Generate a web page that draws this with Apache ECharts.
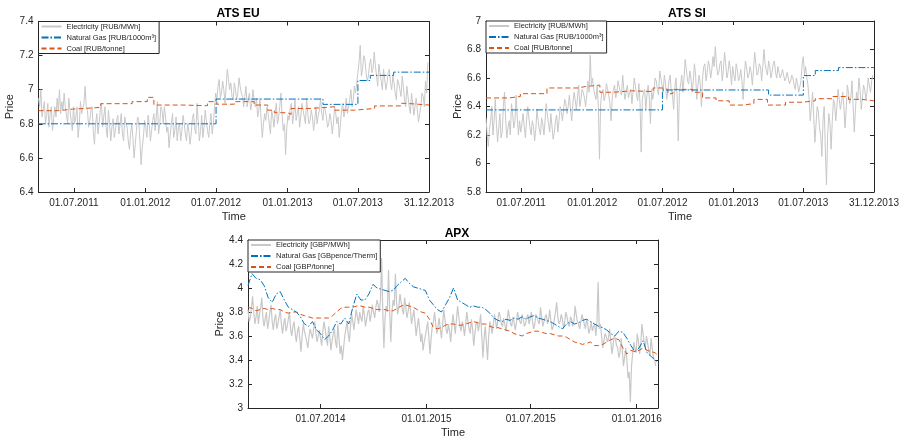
<!DOCTYPE html>
<html><head><meta charset="utf-8">
<script src="https://cdn.jsdelivr.net/npm/echarts@6/dist/echarts.min.js"></script>
<style>html,body{margin:0;padding:0;background:#fff}#c{width:902px;height:439px}</style>
</head><body><div id="c"></div>
<script>
// ---------- ATS EU ----------
const euRange = ['2011-04-01', '2013-12-31'];
const euElecStart = '2011-04-01';
const euElecStepDays = 3;
const euTicks = ['01.07.2011', '01.01.2012', '01.07.2012', '01.01.2013', '01.07.2013', '31.12.2013'];
const euElec = [
  6.95, 6.9, 7.0, 6.84, 6.88, 6.93, 6.8, 6.85, 6.92, 6.78, 6.86, 6.9, 6.76, 6.83, 6.9, 6.84, 6.95, 6.88, 7.0, 6.86, 6.93, 6.88, 6.98, 6.9, 6.85, 6.8, 6.95, 6.88, 6.82,
  6.76, 6.9, 6.8, 6.84, 6.9, 6.72, 6.8, 6.93, 6.86, 6.85, 6.92, 7.02, 6.9, 6.88, 6.78, 6.82, 6.88, 6.9, 6.76, 6.68, 6.8, 6.86, 6.74, 6.8, 6.88, 6.92, 6.78, 6.84, 6.9, 6.78, 6.72, 6.88,
  6.8, 6.7, 6.78, 6.83, 6.72, 6.76, 6.82, 6.85, 6.74, 6.8, 6.86, 6.74, 6.7, 6.84, 6.8, 6.78, 6.7, 6.65, 6.74, 6.8, 6.72, 6.6, 6.68, 6.76, 6.84, 6.82, 6.7, 6.56, 6.66, 6.72,
  6.82, 6.78, 6.72, 6.85, 6.8, 6.7, 6.76, 6.82, 6.86, 6.76, 6.84, 6.93, 6.74, 6.8, 6.9, 6.88, 6.8, 6.9, 6.84, 6.75, 6.78, 6.66, 6.74, 6.8, 6.86, 6.72, 6.76, 6.84, 6.7, 6.78,
  6.8, 6.7, 6.76, 6.85, 6.8, 6.74, 6.7, 6.8, 6.76, 6.68, 6.74, 6.83, 6.86, 6.77, 6.74, 6.92, 6.82, 6.7, 6.76, 6.85, 6.72, 6.78, 6.88, 6.82, 6.76, 6.72, 6.8, 6.86, 6.74, 6.8,
  6.9, 6.98, 6.94, 7.02, 7.06, 6.95, 6.98, 7.05, 7.0, 6.92, 7.02, 7.12, 7.06, 7.0, 7.04, 6.96, 6.94, 7.04, 7.0, 6.94, 6.98, 7.07, 7.02, 6.98, 6.96, 6.9, 6.96, 7.02, 6.9, 6.95, 6.98,
  6.88, 6.92, 7.0, 6.94, 6.9, 6.95, 6.84, 6.88, 6.95, 6.82, 6.72, 6.8, 6.86, 6.82, 6.9, 6.86, 6.8, 6.74, 6.88, 6.84, 6.78, 6.86, 6.92, 6.8, 6.84, 6.9, 6.98, 6.85, 6.76, 6.8, 6.62,
  6.78, 6.85, 6.82, 6.9, 6.92, 6.8, 6.86, 6.94, 6.82, 6.86, 6.9, 6.78, 6.84, 6.92, 6.88, 6.84, 6.8, 6.95, 6.86, 6.8, 6.82, 6.88, 6.84, 6.76, 6.82, 6.9, 6.8, 6.85, 6.88, 6.95,
  6.86, 6.82, 6.9, 6.88, 6.84, 6.78, 6.8, 6.86, 6.82, 6.74, 6.8, 6.9, 6.86, 6.8, 6.84, 6.72, 6.8, 6.88, 6.92, 6.84, 6.88, 6.95, 6.86, 6.9, 6.94, 7.0, 6.9, 6.94, 7.02, 6.98,
  7.04, 7.1, 7.16, 7.26, 7.08, 7.12, 7.2, 7.18, 7.1, 7.05, 7.08, 7.15, 7.18, 7.1, 7.12, 7.22, 7.14, 7.08, 7.02, 7.15, 7.1, 7.05, 7.0, 7.12, 7.06, 7.0, 7.04, 7.1, 7.12, 7.04, 7.0,
  7.08, 7.04, 6.98, 6.94, 7.06, 7.04, 7.0, 6.96, 7.08, 7.02, 6.94, 6.9, 7.02, 6.96, 6.9, 6.86, 6.98, 6.92, 6.85, 6.9, 6.95, 6.88, 6.81, 6.86, 6.9, 6.98, 6.96, 6.9, 7.05, 6.98, 7.16
];
const euGasDates = ['2011-04-01', '2012-07-01', '2013-04-02', '2013-07-01', '2013-08-02', '2013-10-01', '2013-12-31'];
const euGasValues = [6.80, 6.945, 6.914, 7.054, 7.084, 7.103, 7.103];
const euCoalDates = ['2011-04-01', '2011-05-23', '2011-06-27', '2011-09-08', '2011-11-28', '2012-01-06', '2012-01-23', '2012-04-05', '2012-06-09', '2012-07-03', '2012-08-17', '2012-10-07', '2012-11-11', '2012-11-28', '2013-01-01', '2013-01-10', '2013-03-02', '2013-05-02', '2013-06-22', '2013-08-13', '2013-10-20', '2013-11-02', '2013-12-31'];
const euCoalValues = [6.877, 6.886, 6.896, 6.918, 6.93, 6.955, 6.91, 6.906, 6.93, 6.915, 6.93, 6.91, 6.88, 6.865, 6.855, 6.89, 6.90, 6.88, 6.89, 6.905, 6.92, 6.91, 6.91];

// ---------- ATS SI ----------
const siRange = ['2011-04-01', '2013-12-31'];
const siElecStart = '2011-04-01';
const siElecStepDays = 3;
const siTicks = ['01.07.2011', '01.01.2012', '01.07.2012', '01.01.2013', '01.07.2013', '31.12.2013'];
const siElec = [
  6.32, 6.2, 6.12, 6.24, 6.3, 6.4, 6.2, 6.3, 6.45, 6.28, 6.15, 6.25, 6.35, 6.18, 6.22, 6.4, 6.5, 6.3, 6.18, 6.25, 6.3, 6.2, 6.42, 6.35, 6.25, 6.3, 6.48, 6.32, 6.2,
  6.3, 6.22, 6.28, 6.35, 6.26, 6.18, 6.3, 6.4, 6.32, 6.25, 6.2, 6.3, 6.26, 6.16, 6.24, 6.38, 6.3, 6.24, 6.2, 6.32, 6.28, 6.2, 6.3, 6.42, 6.34, 6.28, 6.22, 6.35, 6.26, 6.17,
  6.22, 6.3, 6.34, 6.22, 6.3, 6.4, 6.36, 6.3, 6.38, 6.45, 6.42, 6.35, 6.4, 6.48, 6.38, 6.3, 6.42, 6.5, 6.45, 6.38, 6.46, 6.55, 6.4, 6.45, 6.52, 6.5, 6.46, 6.4, 6.48, 6.58, 6.5, 6.76,
  6.55, 6.6, 6.52, 6.48, 6.45, 6.55, 6.4, 6.03, 6.42, 6.5, 6.52, 6.44, 6.48, 6.56, 6.52, 6.48, 6.42, 6.3, 6.46, 6.52, 6.55, 6.46, 6.5, 6.58, 6.54, 6.5, 6.48, 6.62, 6.52, 6.45,
  6.5, 6.55, 6.46, 6.5, 6.52, 6.42, 6.5, 6.6, 6.54, 6.48, 6.44, 6.56, 6.42, 6.08, 6.45, 6.5, 6.52, 6.38, 6.48, 6.55, 6.46, 6.28, 6.52, 6.45, 6.5, 6.6, 6.58, 6.52, 6.48, 6.65,
  6.6, 6.55, 6.5, 6.62, 6.56, 6.45, 6.5, 6.58, 6.62, 6.5, 6.48, 6.38, 6.52, 6.6, 6.48, 6.16, 6.5, 6.55, 6.62, 6.5, 6.6, 6.73, 6.66, 6.58, 6.56, 6.65, 6.6, 6.5, 6.58, 6.7, 6.62,
  6.45, 6.55, 6.62, 6.56, 6.4, 6.6, 6.68, 6.7, 6.58, 6.64, 6.72, 6.68, 6.6, 6.66, 6.75, 6.68, 6.82, 6.7, 6.62, 6.64, 6.7, 6.72, 6.58, 6.66, 6.78, 6.7, 6.6, 6.64, 6.72, 6.66, 6.55,
  6.68, 6.62, 6.58, 6.7, 6.66, 6.58, 6.6, 6.66, 6.58, 6.45, 6.6, 6.72, 6.68, 6.6, 6.62, 6.68, 6.64, 6.55, 6.66, 6.78, 6.7, 6.62, 6.64, 6.7, 6.68, 6.58, 6.68, 6.8, 6.7, 6.65,
  6.62, 6.72, 6.68, 6.6, 6.64, 6.7, 6.72, 6.64, 6.6, 6.68, 6.64, 6.6, 6.62, 6.66, 6.62, 6.58, 6.6, 6.64, 6.6, 6.56, 6.58, 6.62, 6.6, 6.55, 6.52, 6.6, 6.56, 6.5, 6.54, 6.58,
  6.7, 6.75, 6.62, 6.68, 6.6, 6.55, 6.45, 6.3, 6.4, 6.5, 6.32, 6.15, 6.28, 6.4, 6.36, 6.25, 6.2, 6.05, 6.3, 6.4, 6.1, 5.85, 6.2, 6.35, 6.28, 6.1, 6.3, 6.45, 6.42, 6.3, 6.4,
  6.52, 6.45, 6.38, 6.44, 6.5, 6.4, 6.25, 6.38, 6.55, 6.5, 6.42, 6.46, 6.58, 6.4, 6.22, 6.38, 6.5, 6.45, 6.6, 6.52, 6.38, 6.46, 6.55, 6.52, 6.45, 6.5, 6.6, 6.55, 6.5, 6.58, 6.62
];
const siGasDates = ['2011-04-01', '2012-07-01', '2013-04-02', '2013-07-01', '2013-08-01', '2013-09-30', '2013-12-31'];
const siGasValues = [6.376, 6.516, 6.48, 6.617, 6.652, 6.673, 6.673];
const siCoalDates = ['2011-04-01', '2011-05-30', '2011-06-29', '2011-09-06', '2011-11-26', '2011-12-14', '2012-01-21', '2012-02-25', '2012-04-12', '2012-06-07', '2012-06-30', '2012-07-15', '2012-07-28', '2012-09-18', '2012-10-13', '2012-11-17', '2012-12-21', '2013-01-24', '2013-02-23', '2013-03-30', '2013-05-16', '2013-06-28', '2013-08-01', '2013-09-13', '2013-10-26', '2013-11-29', '2013-12-31'];
const siCoalValues = [6.46, 6.47, 6.49, 6.53, 6.54, 6.55, 6.50, 6.51, 6.505, 6.53, 6.52, 6.49, 6.52, 6.50, 6.46, 6.44, 6.41, 6.42, 6.45, 6.41, 6.43, 6.44, 6.455, 6.47, 6.45, 6.44, 6.44];

// ---------- APX ----------
const apxRange = ['2014-02-25', '2016-02-07'];
const apxTicks = ['01.07.2014', '01.01.2015', '01.07.2015', '01.01.2016'];
const apxElecStart = '2014-02-25';
const apxElecStepDays = 2;
const apxElec = [
  3.82, 3.72, 3.75, 3.84, 3.93, 3.8, 3.7, 3.76, 3.85, 3.7, 3.78, 3.84, 3.92, 3.74, 3.68, 3.75, 3.8, 3.66, 3.72, 3.8, 3.86, 3.72, 3.65, 3.74, 3.78, 3.66, 3.7, 3.76, 3.82, 3.7,
  3.62, 3.7, 3.75, 3.64, 3.68, 3.74, 3.8, 3.66, 3.6, 3.68, 3.72, 3.62, 3.55, 3.64, 3.68, 3.58, 3.47, 3.6, 3.7, 3.64, 3.6, 3.55, 3.5, 3.6, 3.66, 3.62, 3.58, 3.66, 3.72, 3.62, 3.55,
  3.6, 3.65, 3.58, 3.52, 3.64, 3.72, 3.66, 3.58, 3.52, 3.68, 3.6, 3.48, 3.56, 3.62, 3.66, 3.55, 3.5, 3.7, 3.58, 3.45, 3.52, 3.4,
  3.5, 3.6, 3.66, 3.72, 3.62, 3.55, 3.68, 3.78, 3.72, 3.65, 3.74, 3.82, 3.76, 3.7, 3.8, 3.75, 3.72, 3.85, 3.78, 3.68, 3.74, 3.8, 3.82, 3.72, 3.78, 3.86,
  3.8, 3.75, 3.84, 3.9, 3.86, 3.8, 3.9, 4.25, 3.82, 3.5, 3.75, 3.85, 3.8, 4.15, 3.82, 3.55, 3.8, 3.9, 3.85, 4.12, 3.88, 3.78, 3.85, 3.95, 3.88, 3.82, 3.78, 3.92, 3.84, 3.75,
  3.8, 3.88, 3.82, 3.7, 3.76, 3.82, 3.72, 3.6, 3.68, 3.75, 3.66, 3.55, 3.62, 3.48,
  3.55, 3.6, 3.66, 3.72, 3.6, 3.45, 3.58, 3.68, 3.72, 3.8, 3.7, 3.62, 3.68, 3.75, 3.66, 3.58, 3.7, 3.82, 3.74, 3.65, 3.62, 3.7, 3.64, 3.55, 3.68, 3.78, 3.7, 3.62, 3.74, 3.85,
  3.76, 3.68, 3.64, 3.72, 3.68, 3.6, 3.7, 3.8, 3.72, 3.66, 3.62, 3.74, 3.66, 3.52, 3.62, 3.7, 3.72, 3.64, 3.7, 3.78, 3.6, 3.42, 3.58, 3.68, 3.55, 3.4, 3.6, 3.72, 3.68, 3.62,
  3.7, 3.78, 3.72, 3.66, 3.74, 3.8, 3.76, 3.7, 3.68, 3.75, 3.7, 3.64, 3.72, 3.82, 3.76, 3.7, 3.68, 3.76, 3.72, 3.65, 3.7, 3.8, 3.76, 3.72, 3.7, 3.78, 3.74, 3.68, 3.7, 3.75,
  3.78, 3.7, 3.74, 3.8, 3.72, 3.66, 3.7, 3.78, 3.76, 3.72, 3.7, 3.84, 3.76, 3.68, 3.72, 3.76, 3.78, 3.7, 3.74, 3.82, 3.72, 3.65, 3.68, 3.74, 3.8, 3.88, 3.76, 3.7, 3.72, 3.78,
  3.74, 3.66, 3.72, 3.8, 3.76, 3.7, 3.68, 3.76, 3.74, 3.68, 3.72, 3.85, 3.78, 3.72, 3.7, 3.66, 3.72, 3.78, 3.74, 3.7, 3.66, 3.74, 3.7, 3.62, 3.66, 3.72, 3.64, 3.68, 3.7, 3.6,
  3.72, 4.05, 3.66, 3.7, 3.6, 3.5, 3.56, 3.62, 3.6, 3.55, 3.58, 3.66, 3.56, 3.45, 3.52, 3.6, 3.58, 3.52, 3.5, 3.42, 3.46, 3.58, 3.48, 3.35, 3.42, 3.5, 3.4, 3.25, 3.3, 3.05, 3.35, 3.45,
  3.55, 3.5, 3.46, 3.62, 3.56, 3.45, 3.52, 3.7, 3.62, 3.55, 3.5, 3.6, 3.54, 3.48, 3.44, 3.58, 3.5, 3.42, 3.4, 3.35
];
const apxWeeklyStart = '2014-02-25';
const apxWeeklyStepDays = 7;
const apxGas = [
  4.02, 4.12, 4.08, 4.07, 4.02, 3.92, 3.88, 3.95, 3.97, 3.9, 3.84, 3.82, 3.8, 3.76, 3.7, 3.68, 3.72, 3.65, 3.62, 3.57,
  3.6, 3.65, 3.72, 3.7, 3.75, 3.7, 3.84, 3.95, 3.9, 3.9, 3.95, 4.03, 4.0, 3.99, 3.98, 3.97, 3.98, 4.02, 4.05, 4.08,
  4.04, 4.01, 4.0, 3.99, 3.98, 3.9, 3.86, 3.82, 3.8, 3.86, 3.92, 4.0, 3.9, 3.88, 3.86, 3.84, 3.85, 3.84, 3.84, 3.82,
  3.79, 3.75, 3.73, 3.72, 3.74, 3.73, 3.75, 3.74, 3.76, 3.74, 3.76, 3.77, 3.75, 3.74, 3.73, 3.72, 3.7, 3.68, 3.66, 3.7,
  3.72, 3.7, 3.71, 3.73, 3.74, 3.72, 3.7, 3.68, 3.67, 3.65, 3.62, 3.6, 3.64, 3.63, 3.58, 3.52, 3.47, 3.5, 3.56, 3.46,
  3.43, 3.4, 3.37
];
const apxCoal = [
  3.84, 3.83, 3.81, 3.82, 3.83, 3.82, 3.83, 3.82, 3.82, 3.8, 3.79, 3.8, 3.8, 3.78, 3.77, 3.76, 3.75, 3.75, 3.75, 3.75,
  3.75, 3.77, 3.8, 3.83, 3.84, 3.84, 3.84, 3.85, 3.85, 3.84, 3.84, 3.83, 3.82, 3.82, 3.82, 3.81, 3.81, 3.83, 3.85, 3.86,
  3.85, 3.84, 3.82, 3.8, 3.79, 3.74, 3.67, 3.66, 3.67, 3.69, 3.7, 3.7, 3.69, 3.69, 3.7, 3.71, 3.72, 3.71, 3.7, 3.7,
  3.68, 3.67, 3.67, 3.66, 3.65, 3.64, 3.62, 3.61, 3.6, 3.62, 3.63, 3.64, 3.64, 3.63, 3.62, 3.62, 3.61, 3.6, 3.6, 3.59,
  3.57, 3.55, 3.54, 3.53, 3.54, 3.55, 3.52, 3.52, 3.53, 3.55, 3.57, 3.58, 3.57, 3.5, 3.45, 3.48, 3.47, 3.48, 3.5, 3.48,
  3.47, 3.46, 3.43
];

// ---------- helpers ----------
const DAY = 86400000;
function ts(iso) { const p = iso.split('-').map(Number); return Date.UTC(p[0], p[1] - 1, p[2]); }
function tsDMY(s) { const p = s.split('.').map(Number); return Date.UTC(p[2], p[1] - 1, p[0]); }
function regular(start, step, vals) { const t0 = ts(start); return vals.map((v, i) => [t0 + i * step * DAY, v]); }
function pairs(dates, vals) { return dates.map((d, i) => [ts(d), vals[i]]); }
function pad(n) { return (n < 10 ? '0' : '') + n; }
function fmt(v) { const d = new Date(v); return pad(d.getUTCDate()) + '.' + pad(d.getUTCMonth() + 1) + '.' + d.getUTCFullYear(); }

const FONT = 'Liberation Sans, Arial, Helvetica, sans-serif';
const AX = '#262626';
const GRAY = '#c8c8c8', BLUE = '#0072BD', ORANGE = '#D95319';
const DASHDOT = [7, 2, 1.5, 2], DASH = [5, 3];

function xAxes(gi, range, ticks) {
  const tv = ticks.map(tsDMY);
  const base = { type: 'value', gridIndex: gi, min: ts(range[0]), max: ts(range[1]), scale: true, splitLine: { show: false },
    axisLine: { onZero: false, lineStyle: { color: AX, width: 1 } } };
  return [
    Object.assign({}, base, {
      position: 'bottom',
      axisTick: { inside: true, length: 4, customValues: tv, lineStyle: { color: AX } },
      axisLabel: { customValues: tv, formatter: fmt, fontSize: 10, color: AX, fontFamily: FONT, margin: 6, hideOverlap: false },
      name: 'Time', nameLocation: 'middle', nameGap: 19,
      nameTextStyle: { fontSize: 11, color: AX, fontFamily: FONT }
    }),
    Object.assign({}, base, {
      position: 'top',
      axisTick: { inside: true, length: 4, customValues: tv, lineStyle: { color: AX } },
      axisLabel: { show: false }
    })
  ];
}
function yAxes(gi, min, max) {
  const base = { type: 'value', gridIndex: gi, min: min, max: max, interval: 0.2, splitLine: { show: false },
    axisLine: { show: true, onZero: false, lineStyle: { color: AX, width: 1 } },
    axisTick: { show: true, inside: true, length: 4, lineStyle: { color: AX } } };
  return [
    Object.assign({}, base, {
      position: 'left',
      axisLabel: { fontSize: 10, color: AX, fontFamily: FONT, margin: 5 },
      name: 'Price', nameLocation: 'middle', nameGap: 17,
      nameTextStyle: { fontSize: 11, color: AX, fontFamily: FONT }
    }),
    Object.assign({}, base, { position: 'right', axisLabel: { show: false } })
  ];
}
function line(name, axIdx, data, color, width, type, step) {
  const s = { name: name, type: 'line', xAxisIndex: axIdx, yAxisIndex: axIdx, data: data,
    symbol: 'none', symbolSize: 0, showSymbol: false, animation: false, silent: true,
    lineStyle: { color: color, width: width, type: type }, itemStyle: { color: color } };
  if (step) s.step = step;
  return s;
}
function legend(left, top, names) {
  return { left: left, top: top, orient: 'vertical', data: names, itemWidth: 20, itemHeight: 8, itemGap: 3,
    backgroundColor: '#fff', borderColor: AX, borderWidth: 1, borderRadius: 0, padding: [1, 3, 1, 2],
    itemStyle: { opacity: 0 },
    selectedMode: false, textStyle: { fontSize: 7.5, color: AX, fontFamily: FONT } };
}

const xa = [].concat(xAxes(0, euRange, euTicks), xAxes(1, siRange, siTicks), xAxes(2, apxRange, apxTicks));
const ya = [].concat(yAxes(0, 6.4, 7.4), yAxes(1, 5.8, 7), yAxes(2, 3, 4.4));

const euNames = ['Electricity [RUB/MWh]', 'Natural Gas [RUB/1000m³]', 'Coal [RUB/tonne]'];
const apxNames = ['Electricity [GBP/MWh]', 'Natural Gas [GBpence/Therm]', 'Coal [GBP/tonne]'];

const option = {
  backgroundColor: '#fff',
  animation: false,
  title: [
    { text: 'ATS EU', left: 233, top: 3, textAlign: 'center', textStyle: { fontSize: 12, fontWeight: 'bold', color: '#000', fontFamily: FONT } },
    { text: 'ATS SI', left: 682, top: 3, textAlign: 'center', textStyle: { fontSize: 12, fontWeight: 'bold', color: '#000', fontFamily: FONT } },
    { text: 'APX', left: 452, top: 223, textAlign: 'center', textStyle: { fontSize: 12, fontWeight: 'bold', color: '#000', fontFamily: FONT } }
  ],
  grid: [
    { left: 38.5, top: 21.5, width: 390.5, height: 170.5 },
    { left: 486, top: 21, width: 391, height: 171 },
    { left: 248, top: 240, width: 410, height: 172 }
  ],
  xAxis: xa,
  yAxis: ya,
  legend: [legend(38.5, 21.5, euNames), legend(486, 21, euNames), legend(248, 240, apxNames)],
  series: [
    line(euNames[0], 0, regular(euElecStart, euElecStepDays, euElec), GRAY, 1, 'solid'),
    line(euNames[1], 0, pairs(euGasDates, euGasValues), BLUE, 1, DASHDOT, 'end'),
    line(euNames[2], 0, pairs(euCoalDates, euCoalValues), ORANGE, 1, DASH, 'end'),
    line(euNames[0], 2, regular(siElecStart, siElecStepDays, siElec), GRAY, 1, 'solid'),
    line(euNames[1], 2, pairs(siGasDates, siGasValues), BLUE, 1, DASHDOT, 'end'),
    line(euNames[2], 2, pairs(siCoalDates, siCoalValues), ORANGE, 1, DASH, 'end'),
    line(apxNames[0], 4, regular(apxElecStart, apxElecStepDays, apxElec), GRAY, 1.2, 'solid'),
    line(apxNames[1], 4, regular(apxWeeklyStart, apxWeeklyStepDays, apxGas), BLUE, 1, DASHDOT),
    line(apxNames[2], 4, regular(apxWeeklyStart, apxWeeklyStepDays, apxCoal), ORANGE, 1, DASH)
  ]
};
const chart = echarts.init(document.getElementById('c'), null, { renderer: 'canvas' });
chart.setOption(option);
</script>
</body></html>
